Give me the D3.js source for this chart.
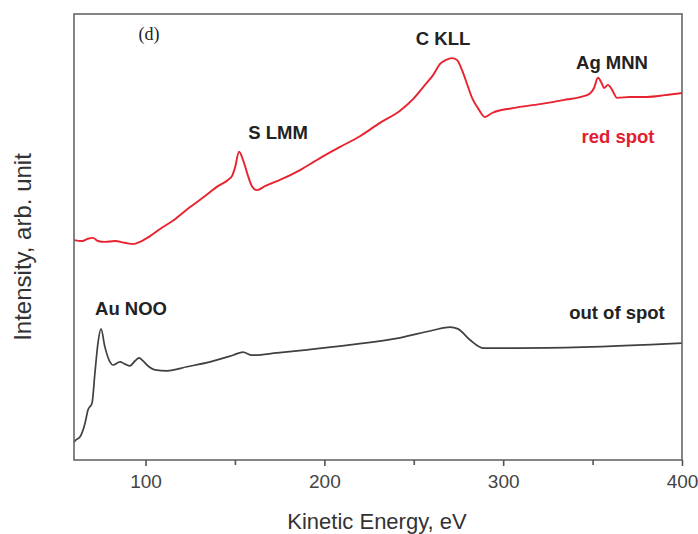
<!DOCTYPE html>
<html><head><meta charset="utf-8">
<script src="https://cdn.jsdelivr.net/npm/d3@7"></script>
<style>body{margin:0;background:#fff}svg{display:block}</style>
</head><body>
<svg id="c" width="698" height="534"></svg>
<script>
// Kinetic energy (eV) and intensity (arb. unit)
const redEnergy = [60.0,64.5,67.8,70.6,73.4,77.3,82.9,88.5,93.0,96.9,102.5,108.1,116.5,124.9,133.3,140.5,146.1,148.4,150.0,152.3,154.5,157.3,159.5,162.3,166.8,175.2,186.4,197.6,208.8,219.9,231.1,242.3,249.6,256.3,260.8,264.7,268.0,271.4,274.2,277.0,279.8,282.6,285.9,289.8,293.8,305.5,320.6,333.5,346.9,350.8,353.0,355.3,356.4,358.6,360.9,363.7,370.9,380.4,390.5,400.0];
const redIntensity = [49.3,49.1,49.6,49.8,49.1,48.9,49.1,48.7,48.4,48.9,50.2,51.8,54.0,56.7,59.2,61.4,62.8,63.7,65.5,69.1,67.3,63.7,61.4,60.5,61.4,62.8,65.0,67.7,70.2,72.6,75.6,78.3,80.9,84.1,86.3,88.8,89.7,90.1,89.7,87.4,84.3,81.2,78.9,76.9,77.8,78.9,79.8,80.7,81.8,83.4,85.7,84.3,83.4,84.1,83.0,81.2,81.4,81.4,81.8,82.3];
const blackEnergy = [60.0,61.1,63.4,66.2,67.8,70.1,71.7,73.4,75.1,77.3,80.1,81.8,85.7,88.5,91.3,94.1,96.4,98.6,100.8,105.3,112.0,123.2,136.1,148.9,154.5,159.5,173.5,190.3,214.3,242.3,260.8,270.3,274.7,281.5,288.7,307.7,344.6,400.0];
const blackIntensity = [4.0,4.5,5.2,8.3,11.2,12.8,19.5,26.2,29.4,25.3,22.0,21.3,22.0,21.5,21.1,22.2,22.9,22.2,21.3,20.2,20.0,20.9,22.0,23.5,24.2,23.5,24.0,24.7,25.8,27.4,29.1,29.8,29.4,26.9,25.1,25.1,25.3,26.2];
const xTicks = [100,200,300,400];
const xMinorTicks = [150,250,350];

const svg = d3.select('#c');
const L = 74, R = 682, T = 14, B = 460;
const x = d3.scaleLinear().domain([60,400]).range([L,R]);
const y = d3.scaleLinear().domain([0,100]).range([B,T]);
const font = 'Liberation Sans, Arial, sans-serif';

const line = d3.line().x(d=>x(d[0])).y(d=>y(d[1])).curve(d3.curveMonotoneX);
const redData = redEnergy.map((e,i)=>[e,redIntensity[i]]);
const blackData = blackEnergy.map((e,i)=>[e,blackIntensity[i]]);

svg.append('path').datum(blackData).attr('d',line).attr('fill','none')
  .attr('stroke','#404040').attr('stroke-width',1.7);
svg.append('path').datum(redData).attr('d',line).attr('fill','none')
  .attr('stroke','#e8222e').attr('stroke-width',1.9);

// frame
svg.append('rect').attr('x',L).attr('y',T).attr('width',R-L).attr('height',B-T)
  .attr('fill','none').attr('stroke','#666').attr('stroke-width',1.6);

// x axis
const xAxis = d3.axisBottom(x).tickValues(xTicks).tickSize(6).tickPadding(9).tickFormat(d3.format('d'));
const gx = svg.append('g').attr('transform',`translate(0,${B})`).call(xAxis);
gx.select('.domain').remove();
gx.selectAll('line').attr('stroke','#555').attr('stroke-width',1.6);
gx.selectAll('text').attr('font-family',font).attr('font-size',19).attr('fill','#444');
const gm = svg.append('g').attr('transform',`translate(0,${B})`)
  .call(d3.axisBottom(x).tickValues(xMinorTicks).tickSize(5).tickFormat(''));
gm.select('.domain').remove();
gm.selectAll('line').attr('stroke','#555').attr('stroke-width',1.6);

// axis titles
svg.append('text').attr('x',377).attr('y',529).attr('text-anchor','middle')
  .attr('font-family',font).attr('font-size',22).attr('fill','#333').text('Kinetic Energy, eV');
svg.append('text').attr('transform','translate(31,247) rotate(-90)').attr('text-anchor','middle')
  .attr('font-family',font).attr('font-size',24).attr('fill','#333').text('Intensity, arb. unit');

// annotations
const ann = [
  ['S LMM',278,139,'#222'],
  ['C KLL',443,45,'#222'],
  ['Ag MNN',612,69,'#222'],
  ['red spot',618,143,'#e02030'],
  ['out of spot',617,319,'#222'],
  ['Au NOO',131,315,'#222']
];
svg.selectAll('.ann').data(ann).enter().append('text').attr('class','ann')
  .attr('x',d=>d[1]).attr('y',d=>d[2]).attr('text-anchor','middle')
  .attr('font-family',font).attr('font-weight','bold').attr('font-size',18.5)
  .attr('fill',d=>d[3]).text(d=>d[0]);
svg.append('text').attr('x',149).attr('y',40).attr('text-anchor','middle')
  .attr('font-family','Liberation Serif, Times New Roman, serif').attr('font-size',18)
  .attr('fill','#222').text('(d)');
</script>
</body></html>
